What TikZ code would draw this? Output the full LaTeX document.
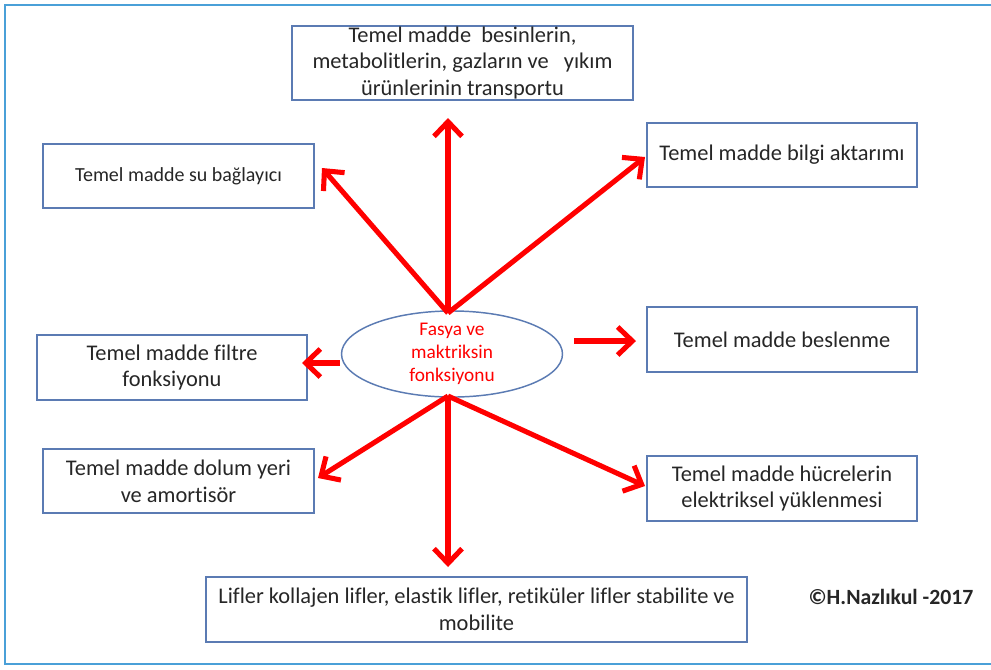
\documentclass[tikz,border=0pt]{standalone}
\usepackage{fontspec}
\setmainfont{Carlito}[Ligatures=NoCommon]
\usetikzlibrary{arrows.meta,shapes.geometric}
\definecolor{boxblue}{HTML}{5B7BB3}
\definecolor{frameblue}{HTML}{4AA0D8}
\definecolor{txt}{HTML}{262626}
\tikzset{
  box/.style={draw=boxblue, line width=1.2pt, fill=white, align=center, inner sep=0pt,
     font=\fontsize{16.8}{20}\selectfont, text=txt},
  arr/.style={draw=red, line width=3.8pt, -{Straight Barb[length=11pt,width=21pt,line width=3.8pt]}},
}
\begin{document}
\begin{tikzpicture}[x=0.75pt,y=-0.75pt]
\useasboundingbox (0,0) rectangle (991,669);
% frame
\draw[frameblue, line width=1.6pt] (991,5) -- (5,5) -- (5,664) -- (991,664);
% boxes
\node[box, minimum width=341*0.75pt, minimum height=74*0.75pt] (top) at (462.5,63)
  {Temel madde\ \ besinlerin,\\ metabolitlerin, gazların ve\ \ \ yıkım\\ ürünlerinin transportu};
\node[box, minimum width=270*0.75pt, minimum height=64*0.75pt] (bilgi) at (782,155) {Temel madde bilgi aktarımı};
\node[box, minimum width=271*0.75pt, minimum height=64*0.75pt, font=\fontsize{15}{18}\selectfont] (su) at (178.5,176) {Temel madde su bağlayıcı};
\node[box, minimum width=270*0.75pt, minimum height=65*0.75pt] (filtre) at (172,367.5) {Temel madde filtre\\ fonksiyonu};
\node[box, minimum width=270*0.75pt, minimum height=65*0.75pt] (besl) at (782,339.5) {Temel madde beslenme};
\node[box, minimum width=271*0.75pt, minimum height=64*0.75pt] (dolum) at (178.5,481) {Temel madde dolum yeri\\ ve amortisör};
\node[box, minimum width=270*0.75pt, minimum height=65*0.75pt] (hucre) at (782,488.5) {Temel madde hücrelerin\\ elektriksel yüklenmesi};
\node[box, minimum width=541*0.75pt, minimum height=65*0.75pt] (lifler) at (476.5,609.5) {Lifler kollajen lifler, elastik lifler, retiküler lifler stabilite ve\\ mobilite};
% ellipse
\node[ellipse, draw=boxblue, line width=1.1pt, fill=white, minimum width=221*0.75pt, minimum height=75*0.75pt,
  inner sep=0pt, align=center, text=red, font=\fontsize{14.5}{17}\selectfont] (ell) at (452,354)
  {Fasya ve\\ maktriksin\\ fonksiyonu};
% copyright
\node[font=\bfseries\fontsize{16.3}{19}\selectfont, text=txt, inner sep=0pt] (copy) at (891,597) {©H.Nazlıkul -2017};
% arrow anchors
\coordinate (hubT) at (448,313);
\coordinate (hubB) at (448,396);
\coordinate (tUp) at (448,118);
\coordinate (tUL) at (322,168);
\coordinate (tUR) at (645,157);
\coordinate (sR) at (574,341);
\coordinate (tR) at (636,341);
\coordinate (sL) at (340,363);
\coordinate (tL) at (302,363);
\coordinate (tDL) at (318,478);
\coordinate (tDn) at (448,567);
\coordinate (tDR) at (645,486);
% arrows
\draw[arr] (hubT) -- (tUp);
\draw[arr] (hubT) -- (tUL);
\draw[arr] (hubT) -- (tUR);
\draw[arr] (sR) -- (tR);
\draw[arr] (sL) -- (tL);
\draw[arr] (hubB) -- (tDL);
\draw[arr] (hubB) -- (tDn);
\draw[arr] (hubB) -- (tDR);
\end{tikzpicture}
\end{document}
